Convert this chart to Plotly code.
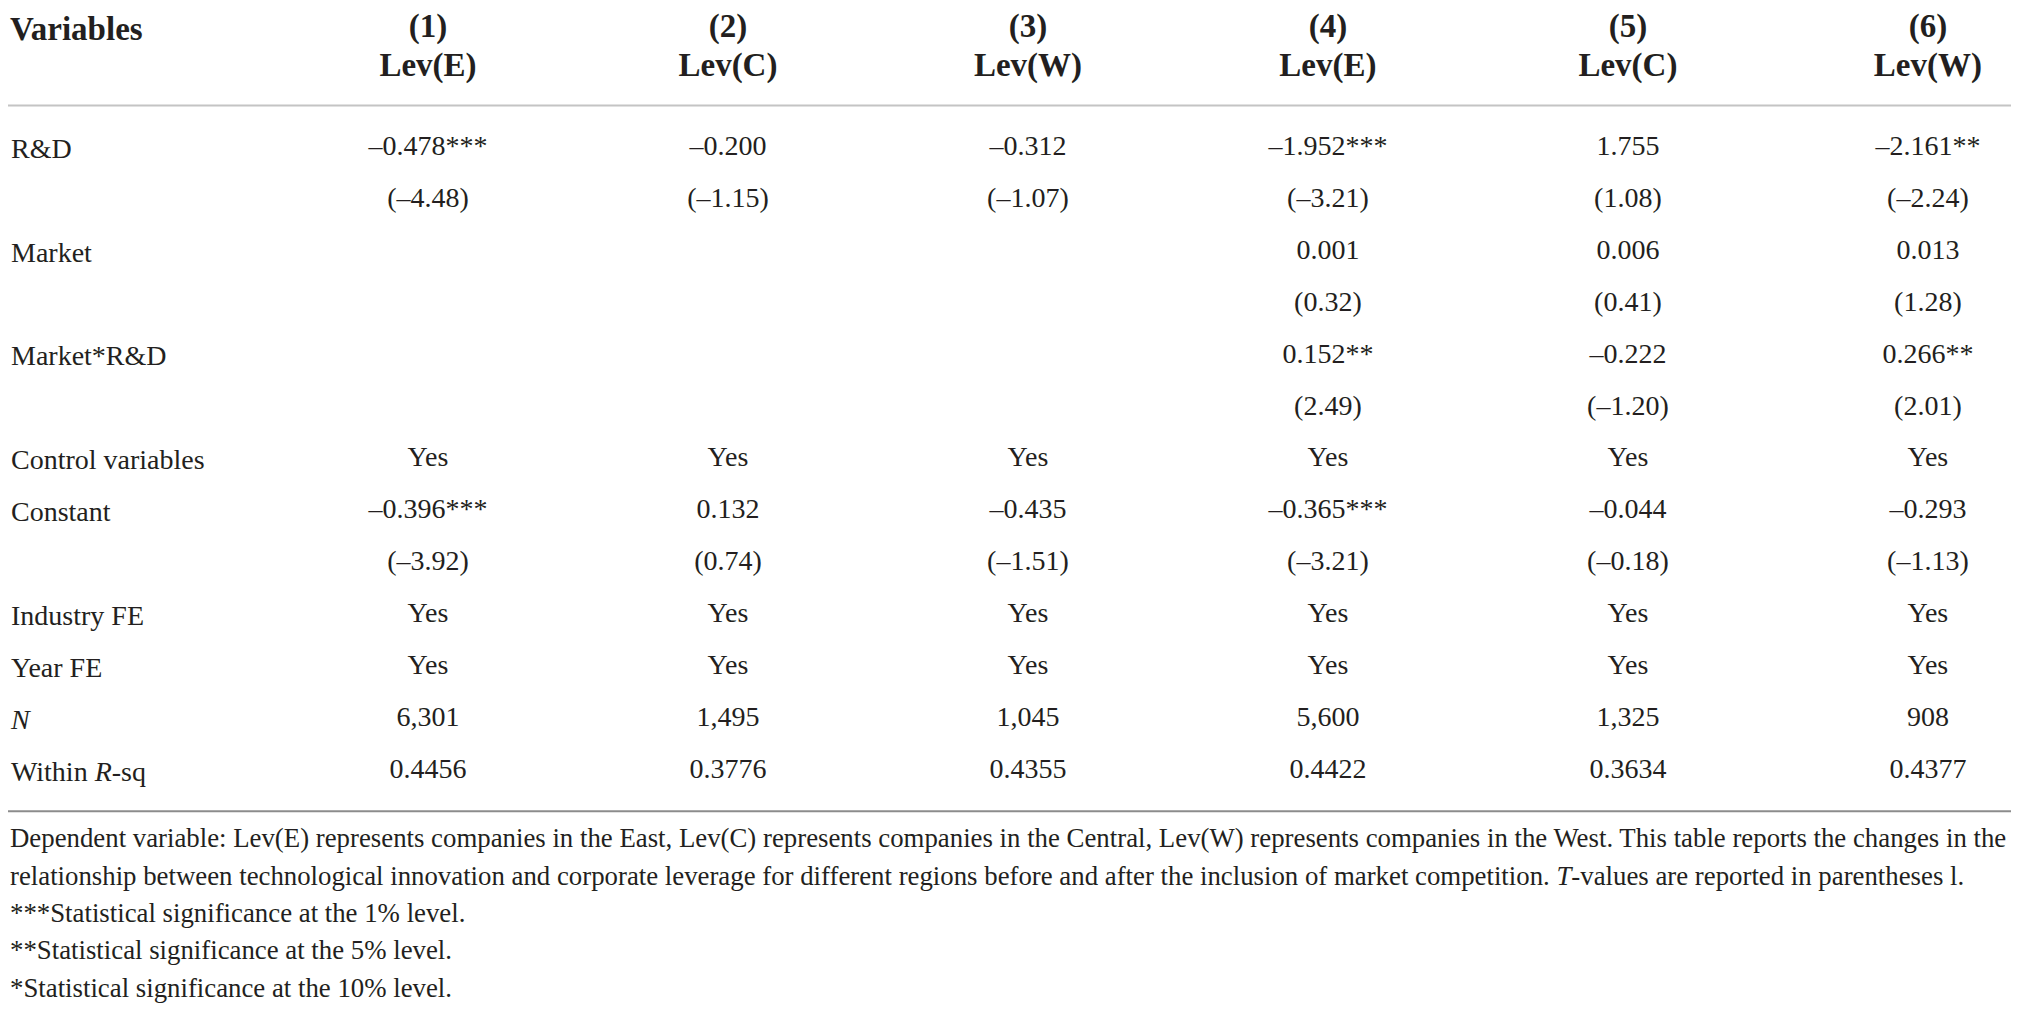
import plotly.graph_objects as go

# table content
row_labels = ["R&D", "", "Market", "", "Market*R&D", "", "Control variables",
              "Constant", "", "Industry FE", "Year FE", "<i>N</i>", "Within <i>R</i>-sq"]
col_numbers = ["(1)", "(2)", "(3)", "(4)", "(5)", "(6)"]
col_names = ["Lev(E)", "Lev(C)", "Lev(W)", "Lev(E)", "Lev(C)", "Lev(W)"]

rd_coef = ["–0.478", "–0.200", "–0.312", "–1.952", "1.755", "–2.161"]
rd_stars = ["***", "", "", "***", "", "**"]
rd_t = ["(–4.48)", "(–1.15)", "(–1.07)", "(–3.21)", "(1.08)", "(–2.24)"]
market_coef = ["", "", "", "0.001", "0.006", "0.013"]
market_stars = ["", "", "", "", "", ""]
market_t = ["", "", "", "(0.32)", "(0.41)", "(1.28)"]
inter_coef = ["", "", "", "0.152", "–0.222", "0.266"]
inter_stars = ["", "", "", "**", "", "**"]
inter_t = ["", "", "", "(2.49)", "(–1.20)", "(2.01)"]
controls = ["Yes", "Yes", "Yes", "Yes", "Yes", "Yes"]
const_coef = ["–0.396", "0.132", "–0.435", "–0.365", "–0.044", "–0.293"]
const_stars = ["***", "", "", "***", "", ""]
const_t = ["(–3.92)", "(0.74)", "(–1.51)", "(–3.21)", "(–0.18)", "(–1.13)"]
industry_fe = ["Yes", "Yes", "Yes", "Yes", "Yes", "Yes"]
year_fe = ["Yes", "Yes", "Yes", "Yes", "Yes", "Yes"]
n_obs = ["6,301", "1,495", "1,045", "5,600", "1,325", "908"]
within_r2 = ["0.4456", "0.3776", "0.4355", "0.4422", "0.3634", "0.4377"]

footnotes = [
    "Dependent variable: Lev(E) represents companies in the East, Lev(C) represents companies in the Central, "
    "Lev(W) represents companies in the West. This table reports the changes in the",
    "relationship between technological innovation and corporate leverage for different regions before and "
    "after the inclusion of market competition. <i>T</i>-values are reported in parentheses l.",
    "***Statistical significance at the 1% level.",
    "**Statistical significance at the 5% level.",
    "*Statistical significance at the 10% level.",
]

body = [
    [c + s for c, s in zip(rd_coef, rd_stars)], rd_t,
    [c + s for c, s in zip(market_coef, market_stars)], market_t,
    [c + s for c, s in zip(inter_coef, inter_stars)], inter_t,
    controls,
    [c + s for c, s in zip(const_coef, const_stars)], const_t,
    industry_fe, year_fe, n_obs, within_r2,
]

FONT = "Liberation Serif"
TXT = "#231f20"

xs, ys, texts = [], [], []
for r, row in enumerate(body):
    for c, val in enumerate(row):
        if val:
            xs.append(c + 1)
            ys.append(r)
            texts.append(val)

fig = go.Figure()
fig.add_trace(go.Scatter(
    x=xs, y=ys, text=texts, mode="text",
    textposition="middle center", cliponaxis=False,
    textfont=dict(family=FONT, size=28, color=TXT),
    hoverinfo="skip", showlegend=False,
))

# column headers, two lines
cols = list(range(1, len(col_names) + 1))
for labels, yrow in ((col_numbers, -2.3), (col_names, -1.55)):
    fig.add_trace(go.Scatter(
        x=cols, y=[yrow] * len(cols),
        text=labels, mode="text",
        textposition="middle center", cliponaxis=False,
        textfont=dict(family=FONT, size=33, color=TXT, weight="bold"),
        hoverinfo="skip", showlegend=False,
    ))

fig.add_annotation(
    text="<b>Variables</b>", xref="paper", x=0, xanchor="left",
    y=-2.3, yref="y", yanchor="middle", showarrow=False, align="left",
    font=dict(family=FONT, size=33, color=TXT),
)

# rules
fig.add_shape(type="line", xref="paper", x0=0, x1=1, yref="y", y0=-0.82, y1=-0.82,
              line=dict(color="#c4c4c4", width=2))
fig.add_shape(type="line", xref="paper", x0=0, x1=1, yref="y", y0=12.78, y1=12.78,
              line=dict(color="#8c8c8c", width=2))

for i, line in enumerate(footnotes):
    fig.add_annotation(
        text=line, xref="paper", x=0, xanchor="left",
        yref="y", y=13.3 + 0.72 * i, yanchor="middle", showarrow=False, align="left",
        font=dict(family=FONT, size=26.8, color=TXT),
    )

fig.update_xaxes(range=[-0.40, 6.277], visible=False, fixedrange=True)
fig.update_yaxes(
    range=[16.55, -2.697], fixedrange=True,
    tickvals=list(range(len(row_labels))), ticktext=row_labels,
    ticklabelposition="inside", ticks="", showgrid=False, zeroline=False, showline=False,
    tickfont=dict(family=FONT, size=28, color=TXT),
)
fig.update_layout(
    width=2003, height=999,
    margin=dict(l=0, r=0, t=0, b=0),
    plot_bgcolor="white", paper_bgcolor="white",
)

fig.write_html("out.html")
